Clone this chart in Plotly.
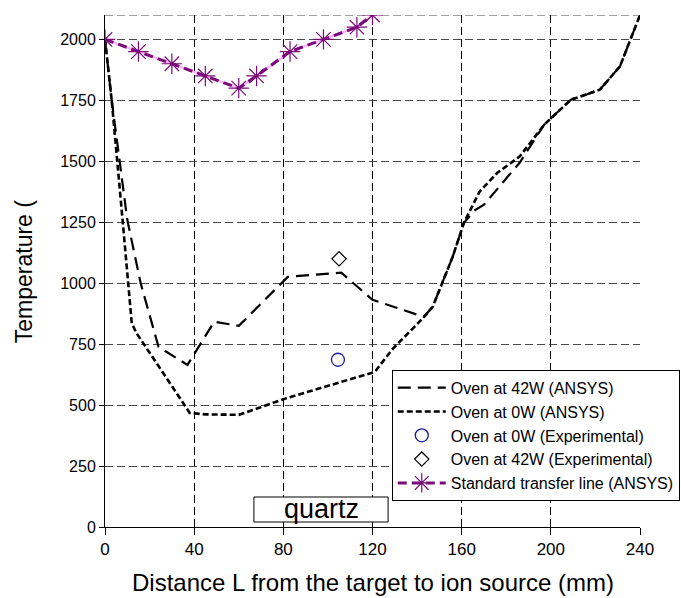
import plotly.graph_objects as go

# ---- data ----
x_42w = [0, 3, 10, 16, 24, 37, 49, 60, 82, 106, 120, 143, 147, 152, 156, 161, 166, 170, 186, 197, 209, 216, 222, 231, 237, 240]
y_42w = [2000, 1750, 1260, 1000, 739, 665, 842, 825, 1026, 1043, 932, 862, 903, 1014, 1109, 1248, 1300, 1322, 1494, 1650, 1753, 1774, 1794, 1889, 2028, 2100]

x_0w = [0, 3, 8, 12, 14, 35, 38, 45, 60, 82, 104, 121, 129, 143, 147, 152, 156, 161, 168, 176, 186, 197, 209, 216, 222, 231, 237, 240]
y_0w = [2000, 1750, 1248, 836, 797, 509, 468, 462, 460, 530, 591, 636, 730, 860, 903, 1014, 1109, 1248, 1375, 1453, 1519, 1650, 1753, 1774, 1794, 1889, 2028, 2100]

x_exp0 = [104.5]
y_exp0 = [686]
x_exp42 = [105]
y_exp42 = [1100]

x_std = [0, 15, 30, 45, 60, 68, 83, 98, 113, 120]
y_std = [2000, 1950, 1900, 1850, 1800, 1850, 1950, 2000, 2050, 2100]

x_ticks = [0, 40, 80, 120, 160, 200, 240]
y_ticks = [0, 250, 500, 750, 1000, 1250, 1500, 1750, 2000]

FONT = "Arial, Liberation Sans, sans-serif"

fig = go.Figure()
fig.add_trace(go.Scatter(x=x_42w, y=y_42w, mode="lines", name="Oven at 42W (ANSYS)",
                         line=dict(color="black", width=2.2, dash="13px,7px")))
fig.add_trace(go.Scatter(x=x_0w, y=y_0w, mode="lines", name="Oven at 0W (ANSYS)",
                         line=dict(color="black", width=2.6, dash="6px,3px")))
fig.add_trace(go.Scatter(x=x_exp0, y=y_exp0, mode="markers", name="Oven at 0W (Experimental)",
                         marker=dict(symbol="circle-open", size=13, color="#1a1aa0", line=dict(width=1.3))))
fig.add_trace(go.Scatter(x=x_exp42, y=y_exp42, mode="markers", name="Oven at 42W (Experimental)",
                         marker=dict(symbol="diamond-open", size=11, color="black", line=dict(width=1.2))))
fig.add_trace(go.Scatter(x=x_std, y=y_std, mode="lines", showlegend=False, hoverinfo="skip",
                         line=dict(color="#ffb8ff", width=2.5)))
fig.add_trace(go.Scatter(x=x_std, y=y_std, mode="lines+markers", name="Standard transfer line (ANSYS)",
                         line=dict(color="#7a0a7a", width=3, dash="9px,5px"),
                         marker=dict(symbol="asterisk-open", size=17, color="#7a0a7a", line=dict(width=1.2, color="#7a0a7a"))))

# top dashed border
fig.add_shape(type="line", xref="x", yref="y", x0=0, x1=240, y0=2100, y1=2100,
              line=dict(color="#444", width=1, dash="8px,4px"), layer="below")

# quartz label box
fig.add_shape(type="rect", xref="x", yref="y", x0=66.8, x1=127, y0=20.5, y1=123,
              line=dict(color="black", width=1), fillcolor="white", layer="above")
fig.add_annotation(x=97, y=72, xref="x", yref="y", text="quartz", showarrow=False,
                   font=dict(family=FONT, size=27, color="black"), yshift=0)

fig.add_annotation(x=-0.151, y=0.5, xref="paper", yref="paper", text="Temperature (",
                   textangle=-90, showarrow=False, xanchor="center", yanchor="middle",
                   font=dict(family=FONT, size=23, color="black"))
fig.add_annotation(x=0.5, y=-0.109, xref="paper", yref="paper",
                   text="Distance L from the target to ion source (mm)",
                   showarrow=False, xanchor="center", yanchor="middle",
                   font=dict(family=FONT, size=24, color="black"))

fig.update_layout(
    width=681, height=598,
    margin=dict(l=105, r=41, t=15, b=71, autoexpand=False),
    paper_bgcolor="white", plot_bgcolor="white",
    font=dict(family=FONT, color="black"),
    showlegend=True,
    legend=dict(x=0.536, y=0.307, xanchor="left", yanchor="top",
                bgcolor="white", bordercolor="black", borderwidth=1,
                font=dict(family=FONT, size=16, color="black"),
                itemwidth=48, tracegroupgap=0),
)
fig.update_xaxes(range=[0, 240], tickvals=x_ticks, ticktext=[str(v) for v in x_ticks],
                 showgrid=True, gridcolor="black", griddash="8px,4px", gridwidth=1,
                 zeroline=False, showline=True, linecolor="black", linewidth=1,
                 ticks="outside", ticklen=7, tickcolor="black",
                 tickfont=dict(family=FONT, size=17, color="black"))
fig.update_yaxes(range=[0, 2100], tickvals=y_ticks, ticktext=[str(v) for v in y_ticks],
                 showgrid=True, gridcolor="#4a4a4a", griddash="8px,4px", gridwidth=1,
                 zeroline=False, showline=True, linecolor="black", linewidth=1,
                 ticks="outside", ticklen=5, tickcolor="black",
                 tickfont=dict(family=FONT, size=16, color="black"))

fig.write_html("out.html")
